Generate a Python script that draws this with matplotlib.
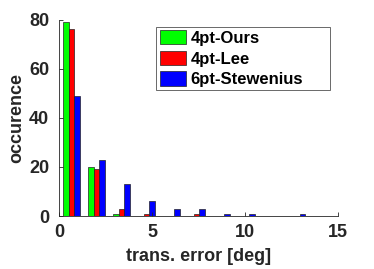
import numpy as np
import matplotlib
matplotlib.use("Agg")
import matplotlib.pyplot as plt

plt.rcParams['font.family'] = ['Liberation Sans', 'DejaVu Sans']
plt.rcParams['font.weight'] = 'bold'

# histogram bin centres (deg) and counts per method
bin_centers = [0.67 + i * 1.345 for i in range(10)]
ours = [79, 20, 1, 0, 0, 0, 0, 0, 0, 0]
lee = [76, 19, 3, 1, 0, 1, 0, 0, 0, 0]
stewenius = [49, 23, 13, 6, 3, 3, 1, 1, 0, 1]
labels = ['4pt-Ours', '4pt-Lee', '6pt-Stewenius']
colors = ['#00ff00', '#ff0000', '#0000ff']

fig = plt.figure(figsize=(3.74, 2.69), dpi=100)
ax = fig.add_axes([0.158, 0.197, 0.746, 0.730])

w = 0.3
x = np.array(bin_centers)
for k, (vals, lab, c) in enumerate(zip([ours, lee, stewenius], labels, colors)):
    ax.bar(x + (k - 1) * w, vals, width=w, color=c, edgecolor='#222222',
           linewidth=0.5, label=lab)

ax.set_xlim(0, 15)
ax.set_ylim(0, 80)
ax.set_xticks([0, 5, 10, 15])
ax.set_yticks([0, 20, 40, 60, 80])
ax.tick_params(direction='in', length=3, width=0.6, labelsize=13,
               colors='#262626', top=False, right=False)
ax.tick_params(axis='y', pad=7)
ax.tick_params(axis='x', pad=6)
for side in ['top', 'right']:
    ax.spines[side].set_visible(False)
for side in ['left', 'bottom']:
    ax.spines[side].set_color('#262626')
    ax.spines[side].set_linewidth(0.6)

ax.set_xlabel('trans. error [deg]', fontsize=13, fontweight='bold', color='#262626', labelpad=5)
ax.set_ylabel('occurence', fontsize=13, fontweight='bold', color='#262626', labelpad=3)

leg = ax.legend(loc='upper left', bbox_to_anchor=(0.348, 0.612, 0.623, 0.352),
                mode='expand', fontsize=12,
                frameon=True, fancybox=False, borderpad=0.2, labelspacing=0.28,
                handlelength=1.6, handleheight=0.95, handletextpad=0.25, borderaxespad=0)
leg.get_frame().set_edgecolor('#262626')
leg.get_frame().set_linewidth(0.6)

fig.savefig('out.png', dpi=100)
